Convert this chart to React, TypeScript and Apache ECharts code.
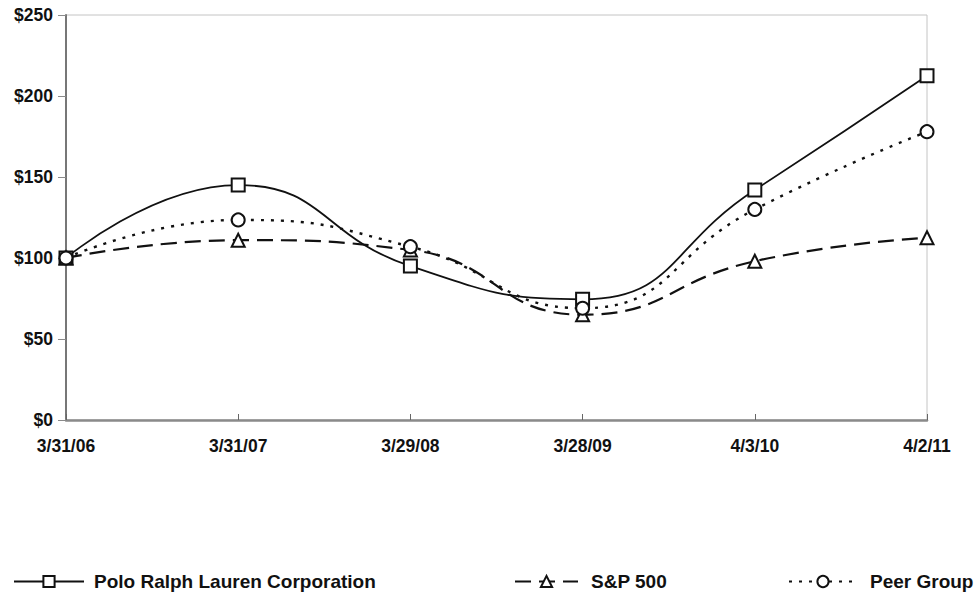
import React, { useEffect, useRef } from "react";
import * as echarts from "echarts";

const categories = ["3/31/06", "3/31/07", "3/29/08", "3/28/09", "4/3/10", "4/2/11"];
const poloValues = [100, 145, 95, 74.5, 142, 212.5];
const spValues = [100, 111, 105, 65, 98, 112.5];
const peerValues = [100, 123.5, 107, 69, 130, 178];
const yTicks = [0, 50, 100, 150, 200, 250];

const FONT = "'Liberation Sans', Arial, sans-serif";

export default function App() {
  const ref = useRef<HTMLDivElement>(null);
  useEffect(() => {
    if (!ref.current) return;
    const chart = echarts.init(ref.current, undefined, { renderer: "svg" });
    const legendText = (pad: number) => ({
      fontFamily: FONT,
      fontWeight: "bold" as const,
      fontSize: 19,
      color: "#111",
      padding: [0, 0, 0, pad],
    });
    chart.setOption({
      animation: false,
      backgroundColor: "#fff",
      grid: {
        left: 66,
        right: 52,
        top: 15,
        bottom: 172,
        show: true,
        borderColor: "#c4c4c4",
        borderWidth: 1,
      },
      legend: [
        {
          data: ["Polo Ralph Lauren Corporation"],
          left: 8,
          top: 567,
          itemWidth: 70,
          itemHeight: 14,
          textStyle: legendText(5),
        },
        {
          data: ["S&P 500"],
          left: 509,
          top: 567,
          itemWidth: 63,
          itemHeight: 14,
          textStyle: legendText(8),
        },
        {
          data: ["Peer Group"],
          left: 783,
          top: 567,
          itemWidth: 68,
          itemHeight: 14,
          textStyle: legendText(8),
        },
      ],
      xAxis: {
        type: "category",
        data: categories,
        boundaryGap: false,
        axisLine: { lineStyle: { color: "#8a8a8a", width: 2.5 } },
        axisTick: { inside: true, length: 6, lineStyle: { color: "#666" } },
        axisLabel: {
          fontFamily: FONT,
          fontWeight: "bold",
          fontSize: 17.5,
          color: "#111",
          margin: 17,
        },
        splitLine: { show: false },
      },
      yAxis: {
        type: "value",
        min: yTicks[0],
        max: yTicks[yTicks.length - 1],
        interval: 50,
        axisLine: { show: true, lineStyle: { color: "#777", width: 2 } },
        axisTick: { show: true, length: 8, lineStyle: { color: "#8a8a8a" } },
        axisLabel: {
          fontFamily: FONT,
          fontWeight: "bold",
          fontSize: 17.5,
          color: "#111",
          margin: 13,
          formatter: (v: number) => "$" + v,
        },
        splitLine: { show: false },
      },
      series: [
        {
          name: "Polo Ralph Lauren Corporation",
          type: "line",
          data: poloValues,
          smooth: 0.5,
          symbol: "emptyRect",
          symbolSize: 13,
          lineStyle: { color: "#111", width: 1.8, type: "solid" },
          itemStyle: { color: "#111", borderWidth: 1.6 },
        },
        {
          name: "S&P 500",
          type: "line",
          data: spValues,
          smooth: 0.5,
          symbol: "emptyTriangle",
          symbolSize: 13,
          lineStyle: { color: "#111", width: 2.2, type: [16, 8] },
          itemStyle: { color: "#111", borderWidth: 1.6 },
        },
        {
          name: "Peer Group",
          type: "line",
          data: peerValues,
          smooth: 0.5,
          symbol: "emptyCircle",
          symbolSize: 13,
          lineStyle: { color: "#111", width: 2.4, type: [3, 7] },
          itemStyle: { color: "#111", borderWidth: 1.6 },
        },
      ],
    });
    return () => chart.dispose();
  }, []);
  return <div ref={ref} style={{ width: 979, height: 592, position: "absolute", left: 0, top: 0 }} />;
}
